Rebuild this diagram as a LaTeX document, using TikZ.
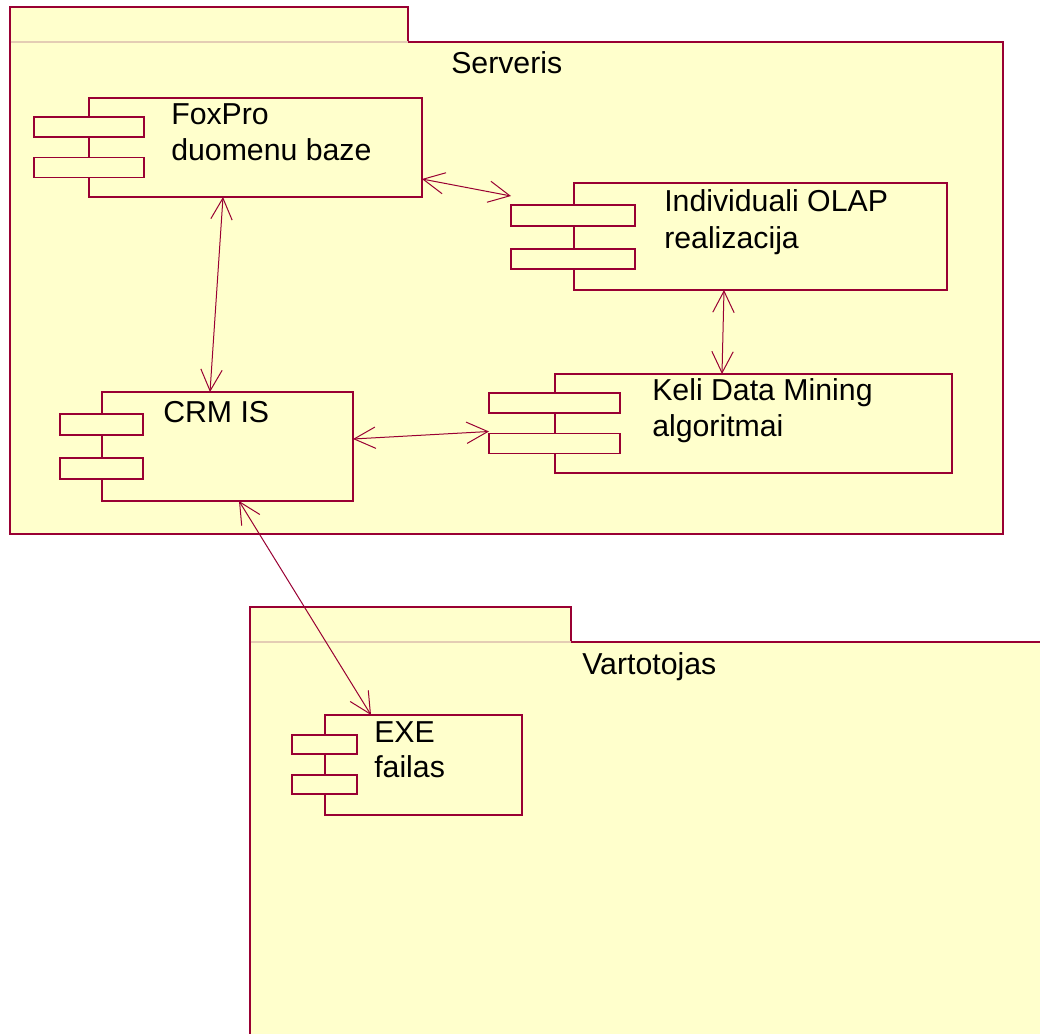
\documentclass[tikz,border=0pt]{standalone}
\usepackage{fontspec}
\setmainfont{Liberation Sans}
\usetikzlibrary{arrows.meta,calc}
\definecolor{rosefill}{RGB}{255,255,204}
\definecolor{roseline}{RGB}{153,0,51}
\definecolor{roselight}{RGB}{228,205,180}
\begin{document}
\begin{tikzpicture}[x=0.75pt,y=-0.75pt,
  pkg/.style={draw=roseline,fill=rosefill,line width=0.8pt},
  comp/.style={draw=roseline,fill=rosefill,line width=0.8pt,rectangle,inner sep=0pt,outer sep=0pt},
  port/.style={draw=roseline,fill=rosefill,line width=0.8pt,rectangle,inner sep=0pt,outer sep=0pt},
  shade/.style={draw=roseline,line width=1.6pt},
  lbl/.style={font=\fontsize{22.7}{27}\selectfont,anchor=base west,inner sep=0pt,text=black},
  link/.style={draw=roseline,line width=0.75pt,{Straight Barb[length=16pt,width=16pt]}-{Straight Barb[length=16pt,width=16pt]}}
]
\useasboundingbox (0,0) rectangle (1040,1034);
\clip (0,0) rectangle (1040,1034);
\fill[white] (0,0) rectangle (1040,1034);

% ---------- package Serveris ----------
\path[pkg] (10,7) rectangle (408,42);
\path[pkg] (10,42) rectangle (1003,534);
\draw[roselight,line width=0.8pt] (10.6,42) -- (407.5,42);
\node[lbl] (serveris) at (451,74) {Serveris};

% ---------- package Vartotojas ----------
\path[pkg] (250,607) rectangle (571,642);
\path[pkg] (250,642) rectangle (1080,1080);
\draw[roselight,line width=0.8pt] (250.6,642) -- (570.5,642);
\node[lbl] (vartotojas) at (582,674) {Vartotojas};

% ---------- components ----------
% FoxPro
\node[comp,minimum width=333*0.75pt,minimum height=99*0.75pt] (fox) at (255.5,147.5) {};
\draw[shade] (fox.north east) -- (fox.south east);
\node[port,minimum width=110*0.75pt,minimum height=20*0.75pt] (foxp1) at (89,127) {};
\node[port,minimum width=110*0.75pt,minimum height=20*0.75pt] (foxp2) at (89,167.5) {};
\node[lbl] (fox1) at (171,125) {FoxPro};
\node[lbl] (fox2) at (171,161) {duomenu baze};

% Individuali OLAP
\node[comp,minimum width=373*0.75pt,minimum height=107*0.75pt] (olap) at (760.5,236.5) {};
\draw[shade] (olap.north east) -- (olap.south east);
\node[port,minimum width=124*0.75pt,minimum height=21*0.75pt] (olapp1) at (573,215.5) {};
\node[port,minimum width=124*0.75pt,minimum height=20*0.75pt] (olapp2) at (573,259) {};
\node[lbl] (olap1) at (664,212) {Individuali OLAP};
\node[lbl] (olap2) at (664,249) {realizacija};

% CRM IS
\node[comp,minimum width=251*0.75pt,minimum height=109*0.75pt] (crm) at (227.5,446.5) {};
\node[port,minimum width=83*0.75pt,minimum height=21*0.75pt] (crmp1) at (101.5,424.5) {};
\node[port,minimum width=83*0.75pt,minimum height=21*0.75pt] (crmp2) at (101.5,468.5) {};
\node[lbl] (crm1) at (163,423) {CRM IS};

% Keli Data Mining
\node[comp,minimum width=397*0.75pt,minimum height=99*0.75pt] (keli) at (753.5,423.5) {};
\draw[shade] (keli.north east) -- (keli.south east);
\node[port,minimum width=131*0.75pt,minimum height=20*0.75pt] (kelip1) at (554.5,403) {};
\node[port,minimum width=131*0.75pt,minimum height=20*0.75pt] (kelip2) at (554.5,443.5) {};
\node[lbl] (keli1) at (652,401) {Keli Data Mining};
\node[lbl] (keli2) at (652,437) {algoritmai};

% EXE failas
\node[comp,minimum width=197*0.75pt,minimum height=100*0.75pt] (exe) at (423.5,765) {};
\node[port,minimum width=65*0.75pt,minimum height=19*0.75pt] (exep1) at (324.5,744.5) {};
\node[port,minimum width=65*0.75pt,minimum height=19*0.75pt] (exep2) at (324.5,784.5) {};
\node[lbl] (exe1) at (374,742) {EXE};
\node[lbl] (exe2) at (374,777) {failas};

% ---------- connectors ----------
\draw[link] ($(fox.north east)+(0,81)$) -- ($(olapp1.north west)+(0,-9)$);
\draw[link] ($(fox.south west)+(134,0)$) -- ($(crm.north west)+(108,0)$);
\draw[link] ($(olap.south west)+(150,0)$) -- ($(keli.north west)+(167,0)$);
\draw[link] ($(crm.north east)+(0,47)$) -- ($(kelip2.north west)+(0,-2)$);
\draw[link] ($(crm.south west)+(137,0)$) -- ($(exe.north west)+(46,0)$);
\end{tikzpicture}
\end{document}
